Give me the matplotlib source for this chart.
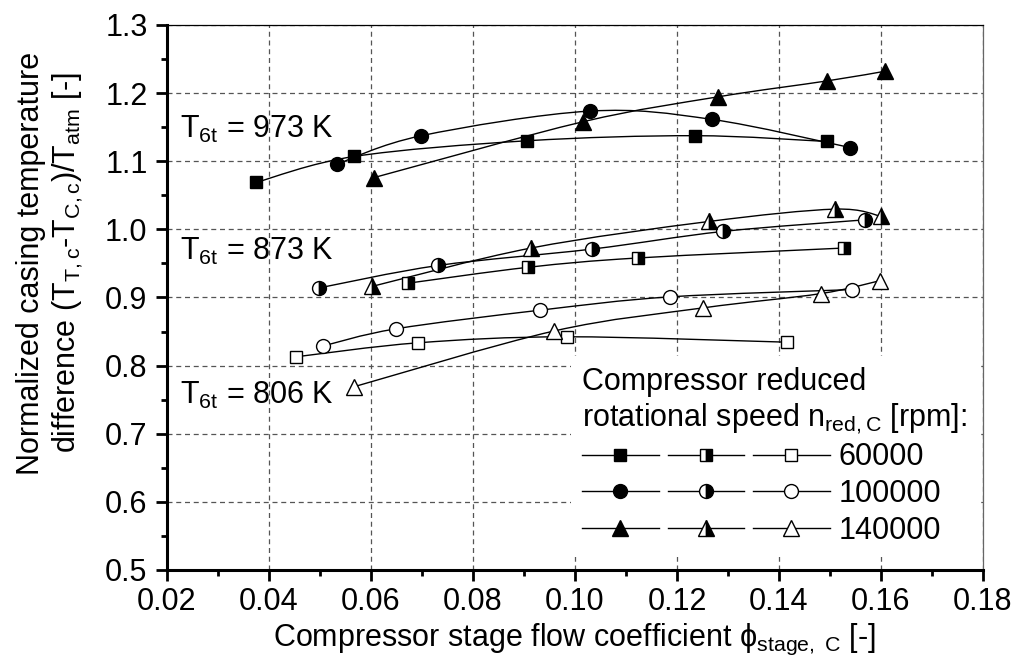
import matplotlib
matplotlib.use("Agg")
import matplotlib.pyplot as plt
import numpy as np
from matplotlib.lines import Line2D
from matplotlib.path import Path
from matplotlib.patches import PathPatch
from matplotlib.legend_handler import HandlerTuple
from matplotlib.ticker import MultipleLocator

plt.rcParams['font.family'] = ['Liberation Sans', 'DejaVu Sans']
plt.rcParams['mathtext.fontset'] = 'custom'
plt.rcParams['mathtext.rm'] = 'Liberation Sans'
plt.rcParams['mathtext.it'] = 'Liberation Sans:italic'
plt.rcParams['mathtext.fallback'] = 'stixsans'

FS = 22

# T6t = 973 K (filled symbols)
phi_973_60k = [0.0375, 0.0567, 0.0905, 0.1235, 0.1494]
tn_973_60k = [1.069, 1.107, 1.130, 1.1375, 1.129]
phi_973_100k = [0.0534, 0.0699, 0.1029, 0.1268, 0.1540]
tn_973_100k = [1.096, 1.1375, 1.1736, 1.1615, 1.120]
phi_973_140k = [0.0606, 0.1016, 0.1281, 0.1495, 0.1607]
tn_973_140k = [1.076, 1.158, 1.1946, 1.218, 1.232]

# T6t = 873 K (half filled symbols)
phi_873_60k = [0.0673, 0.0908, 0.1123, 0.1528]
tn_873_60k = [0.921, 0.9443, 0.958, 0.9726]
phi_873_100k = [0.0498, 0.0732, 0.1033, 0.1291, 0.1569]
tn_873_100k = [0.914, 0.947, 0.971, 0.997, 1.014]
phi_873_140k = [0.0603, 0.0914, 0.1263, 0.1510, 0.1601]
tn_873_140k = [0.9164, 0.9726, 1.0116, 1.0297, 1.019]

# T6t = 806 K (open symbols)
phi_806_60k = [0.0454, 0.0693, 0.0984, 0.1415]
tn_806_60k = [0.813, 0.8335, 0.8423, 0.8344]
phi_806_100k = [0.0505, 0.0649, 0.0931, 0.1186, 0.1544]
tn_806_100k = [0.8286, 0.854, 0.8813, 0.9009, 0.9116]
phi_806_140k = [0.0567, 0.0959, 0.1252, 0.1482, 0.1598]
tn_806_140k = [0.769, 0.8508, 0.8848, 0.9057, 0.9247]

speeds = ['60000', '100000', '140000']
temps = ['973 K', '873 K', '806 K']

series = {
    ('973', 0): (phi_973_60k, tn_973_60k),
    ('973', 1): (phi_973_100k, tn_973_100k),
    ('973', 2): (phi_973_140k, tn_973_140k),
    ('873', 0): (phi_873_60k, tn_873_60k),
    ('873', 1): (phi_873_100k, tn_873_100k),
    ('873', 2): (phi_873_140k, tn_873_140k),
    ('806', 0): (phi_806_60k, tn_806_60k),
    ('806', 1): (phi_806_100k, tn_806_100k),
    ('806', 2): (phi_806_140k, tn_806_140k),
}

markers = [('s', 9), ('o', 10), ('^', 11)]
fills = {
    '973': dict(markerfacecolor='black'),
    '873': dict(fillstyle='left', markerfacecolor='white',
                markerfacecoloralt='black'),
    '806': dict(markerfacecolor='white'),
}


def spline_path(x, y):
    """Smooth curve through the points (Catmull-Rom as cubic Bezier)."""
    p = np.column_stack([x, y])
    ext = np.vstack([p[0], p, p[-1]])
    tang = (ext[2:] - ext[:-2]) / 2
    verts = [p[0]]
    codes = [Path.MOVETO]
    for i in range(len(p) - 1):
        verts += [p[i] + tang[i] / 3, p[i + 1] - tang[i + 1] / 3, p[i + 1]]
        codes += [Path.CURVE4] * 3
    return Path(verts, codes)


fig = plt.figure(figsize=(10.18, 6.7), dpi=100)
ax = fig.add_axes([0.164, 0.1493, 0.8016, 0.8134])

for (temp, k), (x, y) in series.items():
    mk, ms = markers[k]
    ax.add_patch(PathPatch(spline_path(x, y), facecolor='none',
                           edgecolor='black', lw=1.0, zorder=2))
    ax.plot(x, y, ls='none', marker=mk, markersize=ms,
            markeredgecolor='black', markeredgewidth=1.0, zorder=3,
            **fills[temp])

ax.set_xlim(0.02, 0.18)
ax.set_ylim(0.5, 1.3)
ax.xaxis.set_major_locator(MultipleLocator(0.02))
ax.xaxis.set_minor_locator(MultipleLocator(0.01))
ax.yaxis.set_major_locator(MultipleLocator(0.1))
ax.yaxis.set_minor_locator(MultipleLocator(0.05))
ax.xaxis.set_major_formatter(lambda v, pos: f'{v:.2f}')
ax.yaxis.set_major_formatter(lambda v, pos: f'{v:.1f}')

ax.set_axisbelow(True)
ax.grid(True, which='major', ls=(0, (4, 3)), color='#555555', lw=0.9)

ax.tick_params(which='major', direction='out', length=8, width=2,
               labelsize=FS, top=False, right=False)
ax.tick_params(which='minor', direction='out', length=4, width=2,
               top=False, right=False)
ax.tick_params(axis='x', which='major', pad=4)
ax.tick_params(axis='y', which='major', pad=6)
for s in ['left', 'bottom']:
    ax.spines[s].set_linewidth(2.2)
ax.spines['top'].set_linewidth(0.9)
ax.spines['right'].set_linewidth(0.9)
ax.spines['right'].set_color('#666666')
for s in ax.spines.values():
    s.set_zorder(6)

ax.set_xlabel('Compressor stage flow coefficient '
              r'$\mathrm{\phi}_{\mathrm{stage,\ C}}$ [-]',
              fontsize=FS, labelpad=4)
ax.set_ylabel('Normalized casing temperature\n'
              r'difference (T$_{\mathrm{T,c}}$-T$_{\mathrm{C,c}}$)/T$_{\mathrm{atm}}$ [-]',
              fontsize=FS, multialignment='center')
ax.yaxis.set_label_coords(-0.10, 0.563)

label_pos = {'973 K': 1.134, '873 K': 0.9545, '806 K': 0.744}
for t in temps:
    ax.text(0.0226, label_pos[t], r'T$_{\mathrm{6t}}$ = ' + t,
            fontsize=FS, va='baseline', ha='left')

rows = []
for k, (mk, ms) in enumerate(markers):
    row = tuple(
        Line2D([], [], color='black', lw=1.0, marker=mk, markersize=ms,
               markeredgecolor='black', markeredgewidth=1.0, **fills[temp])
        for temp in ['973', '873', '806'])
    rows.append(row)

leg = ax.legend(rows, speeds,
                handler_map={tuple: HandlerTuple(ndivide=None, pad=0.3)},
                handlelength=8.1, handletextpad=0.3, numpoints=1,
                title='Compressor reduced\n'
                      r'rotational speed n$_{\mathrm{red,C}}$ [rpm]:',
                loc='upper left', bbox_to_anchor=(0.477, 0.421),
                frameon=True, framealpha=1, facecolor='white',
                edgecolor='none', fancybox=False, borderpad=0.35,
                labelspacing=0.22, alignment='left',
                fontsize=FS, title_fontsize=FS)
leg.set_zorder(5)

fig.savefig('out.png', dpi=100)
